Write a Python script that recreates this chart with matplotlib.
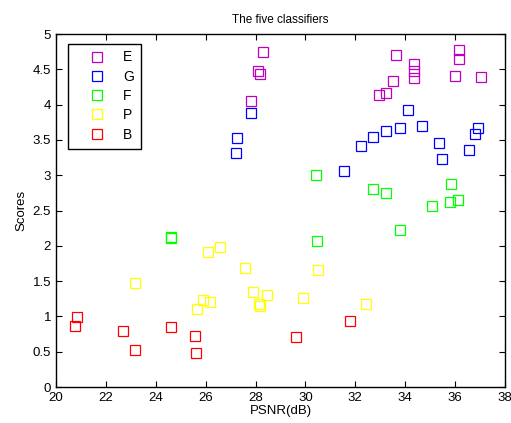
import matplotlib.pyplot as plt

plt.rcParams['font.family'] = ['Liberation Sans', 'DejaVu Sans']

# E
e_x = [27.83, 28.08, 28.16, 28.29, 32.97, 33.23, 33.52, 33.64, 34.35, 34.35, 34.35, 36.0, 36.15, 36.16, 37.04]
e_y = [4.05, 4.47, 4.43, 4.74, 4.14, 4.17, 4.33, 4.70, 4.57, 4.48, 4.37, 4.41, 4.65, 4.77, 4.39]
# G
g_x = [27.21, 27.25, 27.83, 31.56, 32.23, 32.73, 33.23, 33.8, 34.1, 34.68, 35.35, 35.47, 36.55, 36.8, 36.92]
g_y = [3.31, 3.53, 3.88, 3.06, 3.41, 3.54, 3.63, 3.67, 3.92, 3.69, 3.45, 3.23, 3.35, 3.58, 3.67]
# F
f_x = [24.6, 24.62, 30.44, 30.48, 32.73, 33.23, 33.8, 35.09, 35.8, 35.84, 36.13]
f_y = [2.12, 2.11, 3.0, 2.07, 2.81, 2.75, 2.22, 2.57, 2.62, 2.88, 2.65]
# P
p_x = [23.17, 25.67, 25.9, 26.08, 26.17, 26.59, 27.57, 27.88, 28.13, 28.16, 28.45, 29.9, 30.52, 32.44]
p_y = [1.47, 1.10, 1.23, 1.91, 1.21, 1.98, 1.68, 1.35, 1.17, 1.15, 1.31, 1.26, 1.66, 1.18]
# B
b_x = [20.76, 20.84, 22.68, 23.15, 24.6, 25.59, 25.63, 29.61, 31.77]
b_y = [0.86, 0.99, 0.80, 0.53, 0.85, 0.72, 0.48, 0.71, 0.94]

series = [
    ('E', e_x, e_y, (0.75, 0.0, 0.75)),
    ('G', g_x, g_y, (0.0, 0.0, 1.0)),
    ('F', f_x, f_y, (0.0, 1.0, 0.0)),
    ('P', p_x, p_y, (1.0, 1.0, 0.0)),
    ('B', b_x, b_y, (1.0, 0.0, 0.0)),
]

fig = plt.figure(figsize=(5.11, 4.23), dpi=100)
ax = fig.add_axes([0.1096, 0.0851, 0.8785, 0.8345])

for nombre, xs, ys, color in series:
    ax.plot(xs, ys, linestyle='none', marker='s', markersize=6.5,
            markerfacecolor='none', markeredgecolor=color,
            markeredgewidth=0.9, label=nombre)

ax.set_xlim(20, 38)
ax.set_ylim(0, 5)
ax.set_xticks(range(20, 39, 2))
ax.set_yticks([0, 0.5, 1, 1.5, 2, 2.5, 3, 3.5, 4, 4.5, 5])
ax.set_yticklabels(['0', '0.5', '1', '1.5', '2', '2.5', '3', '3.5', '4', '4.5', '5'])
ax.tick_params(direction='in', top=True, right=True, labelsize=9.5, length=4, width=0.8)
for s in ax.spines.values():
    s.set_linewidth(1.0)

ax.set_xlabel('PSNR(dB)', fontsize=9.5, labelpad=1)
ax.set_ylabel('Scores', fontsize=9.5, labelpad=4)
ax.set_title('The five classifiers', fontsize=8.5, pad=8)

leg = ax.legend(loc='upper left', bbox_to_anchor=(0.026, 0.973), fontsize=10,
                frameon=True, fancybox=False, framealpha=1, edgecolor='black',
                handlelength=3.2, handletextpad=0.3, labelspacing=0.38,
                borderpad=0.5, borderaxespad=0)
leg.get_frame().set_linewidth(1.0)

fig.savefig('out.png', dpi=100)
